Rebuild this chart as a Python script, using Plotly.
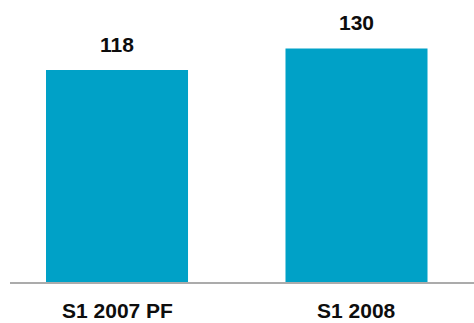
import plotly.graph_objects as go

# Half-year revenue figures
periods = ["S1 2007 PF", "S1 2008"]
values = [118, 130]

BAR_COLOR = "#00A1C7"
TEXT_COLOR = "#0D0D0D"
FONT = "Liberation Sans, Arial, sans-serif"

fig = go.Figure(
    go.Bar(
        x=periods,
        y=values,
        width=0.593,
        marker=dict(color=BAR_COLOR, line=dict(width=0)),
        hoverinfo="skip",
    )
)

for p, v in zip(periods, values):
    # Bold value label above each bar
    fig.add_annotation(
        x=p, y=v, xref="x", yref="y",
        text=f"<b>{v}</b>",
        showarrow=False,
        yanchor="middle",
        yshift=26,
        font=dict(family=FONT, size=21, color=TEXT_COLOR),
    )
    # Bold period label under the baseline
    fig.add_annotation(
        x=p, y=0, xref="x", yref="paper",
        text=f"<b>{p}</b>",
        showarrow=False,
        yanchor="middle",
        yshift=-28.5,
        borderpad=0,
        font=dict(family=FONT, size=21, color=TEXT_COLOR),
    )

fig.update_layout(
    width=474,
    height=323,
    margin=dict(l=10, r=0, t=0, b=41),
    paper_bgcolor="white",
    plot_bgcolor="white",
    showlegend=False,
    xaxis=dict(
        type="category",
        range=[-0.4468, 1.4906],
        showline=True,
        linecolor="#ABABAB",
        linewidth=2,
        showgrid=False,
        zeroline=False,
        ticks="",
        showticklabels=False,
    ),
    yaxis=dict(
        range=[0, 157],
        visible=False,
        showgrid=False,
        zeroline=False,
    ),
)

fig.write_html("out.html")
